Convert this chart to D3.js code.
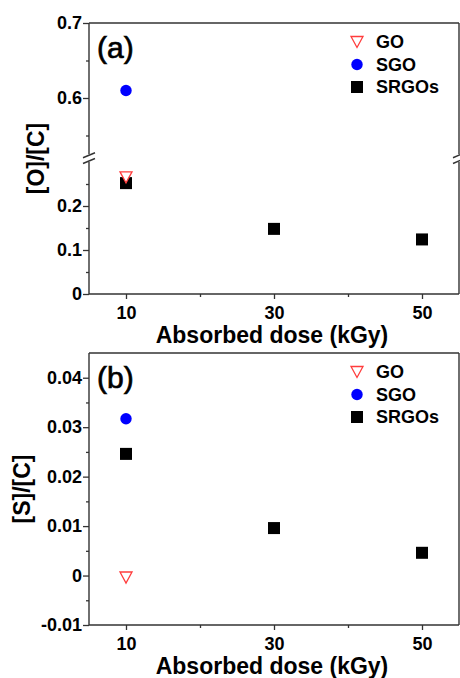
<!DOCTYPE html>
<html>
<head>
<meta charset="utf-8">
<script src="https://cdn.jsdelivr.net/npm/d3@7"></script>
<style>
  body { margin: 0; background: #fff; }
  text { font-family: Arial, "Liberation Sans", sans-serif; }
</style>
</head>
<body>
<svg id="fig" width="460" height="678"></svg>
<script>
// data
const doseGO = [10]
const doseSGO = [10]
const doseSRGO = [10, 30, 50]

const goOC = [0.265]
const sgoOC = [0.61]
const srgoOC = [0.252, 0.148, 0.124]

const goSC = [-0.0004]
const sgoSC = [0.0317]
const srgoSC = [0.0246, 0.0096, 0.0046]

const xTicks = [10, 30, 50]
const xMinor = [20, 40]
const ocTicksHigh = [0.6, 0.7]
const ocMinorHigh = [0.55, 0.65]
const ocTicksLow = [0, 0.1, 0.2]
const ocMinorLow = [0.05, 0.15, 0.25]
const scTicks = [-0.01, 0, 0.01, 0.02, 0.03, 0.04]
const scMinor = [-0.005, 0.005, 0.015, 0.025, 0.035]

const legendNames = ["GO", "SGO", "SRGOs"]

const left = 89, right = 459
const axisColor = "#333"
const svg = d3.select("#fig")

const x = d3.scaleLinear().domain([5, 55]).range([left, right])

function marker(g, type, cx, cy) {
	if (type == "GO") {
		// open down-pointing triangle (white inside)
		g.append("path")
			.attr("d", `M${cx - 6},${cy - 5.5}L${cx + 6},${cy - 5.5}L${cx},${cy + 5.5}Z`)
			.attr("fill", "#fff")
			.attr("stroke", "#ff3c3c")
			.attr("stroke-width", 1.3)
	} else if (type == "SGO") {
		g.append("circle")
			.attr("cx", cx).attr("cy", cy).attr("r", 5.7)
			.attr("fill", "#0000ff")
	} else {
		g.append("rect")
			.attr("x", cx - 6).attr("y", cy - 6)
			.attr("width", 12).attr("height", 12)
			.attr("fill", "#000")
	}
}

function styleAxis(g) {
	g.select(".domain").remove()
	g.selectAll("line").attr("stroke", axisColor).attr("stroke-width", 1.3)
	g.selectAll("text")
		.attr("fill", "#000")
		.style("font-size", "18px")
		.style("font-weight", "bold")
}

function yAxis(g, scale, major, minor) {
	g.append("g")
		.attr("transform", `translate(${left},0)`)
		.call(d3.axisLeft(scale).tickValues(major).tickSize(6).tickPadding(1).tickFormat(d => String(d)))
		.call(styleAxis)
	g.append("g")
		.attr("transform", `translate(${left},0)`)
		.call(d3.axisLeft(scale).tickValues(minor).tickSize(3).tickFormat(""))
		.call(styleAxis)
}

function drawPanel(p) {
	let g = svg.append("g")
	let top = p.top, bottom = p.bottom

	// x axis
	g.append("g")
		.attr("transform", `translate(0,${bottom})`)
		.call(d3.axisBottom(x).tickValues(xTicks).tickSize(5).tickPadding(7).tickFormat(d => String(d)))
		.call(styleAxis)
	g.append("g")
		.attr("transform", `translate(0,${bottom})`)
		.call(d3.axisBottom(x).tickValues(xMinor).tickSize(3).tickFormat(""))
		.call(styleAxis)

	// y axis (one or two segments)
	for (let s of p.segments)
		yAxis(g, s.scale, s.major, s.minor)

	// frame
	let frame = g.append("g").attr("stroke", axisColor).attr("stroke-width", 1.4).attr("fill", "none")
	frame.append("line").attr("x1", left).attr("x2", right).attr("y1", top).attr("y2", top)
	frame.append("line").attr("x1", left).attr("x2", right).attr("y1", bottom).attr("y2", bottom)
	for (let s of p.segments) {
		let r = s.scale.range()
		for (let xx of [left, right])
			frame.append("line").attr("x1", xx).attr("x2", xx).attr("y1", r[1]).attr("y2", r[0])
	}
	if (p.segments.length > 1) {
		let yb1 = p.segments[0].scale.range()[0]
		let yb2 = p.segments[1].scale.range()[1]
		for (let xx of [left, right])
			for (let yy of [yb1 + 1, yb2 - 1])
				frame.append("line")
					.attr("x1", xx - 6).attr("y1", yy + 2.5)
					.attr("x2", xx + 6).attr("y2", yy - 2.5)
	}

	// points
	let yOf = v => {
		for (let s of p.segments) {
			let d = s.scale.domain()
			if (v >= d[0] - 0.03 && v <= d[1]) return s.scale(v)
		}
		return p.segments[0].scale(v)
	}
	let pts = g.append("g")
	for (let ser of p.series)
		ser.xs.forEach((d, i) => marker(pts, ser.name, x(d), yOf(ser.ys[i])))

	// legend
	let lg = g.append("g")
	legendNames.forEach((name, i) => {
		let cy = top + 19 + i * 22.5
		marker(lg, name, 357, cy)
		lg.append("text")
			.attr("x", 376).attr("y", cy).attr("dy", "0.36em")
			.style("font-size", "18px").style("font-weight", "bold")
			.text(name)
	})

	// panel tag, a bit heavier than regular
	g.append("text")
		.attr("x", 97).attr("y", top + 35)
		.attr("stroke", "#000").attr("stroke-width", 0.7)
		.style("font-size", "30px")
		.text(p.tag)

	// axis titles
	g.append("text")
		.attr("x", (left + right) / 2 - 2).attr("y", bottom + 49)
		.attr("text-anchor", "middle")
		.style("font-size", "23px").style("font-weight", "bold")
		.text("Absorbed dose (kGy)")
	g.append("text")
		.attr("transform", `translate(${p.titleX},${(top + bottom) / 2}) rotate(-90)`)
		.attr("text-anchor", "middle").attr("dy", "0.36em")
		.style("font-size", "23px").style("font-weight", "bold")
		.text(p.yTitle)
}

// (a) broken O/C axis
let ocHigh = d3.scaleLinear().domain([0.525, 0.7]).range([154.25, 23])
let ocLow = d3.scaleLinear().domain([0, 0.3]).range([294, 162])
drawPanel({
	top: 23, bottom: 294, tag: "(a)", yTitle: "[O]/[C]", titleX: 36,
	segments: [
		{scale: ocHigh, major: ocTicksHigh, minor: ocMinorHigh},
		{scale: ocLow, major: ocTicksLow, minor: ocMinorLow}
	],
	series: [
		{name: "SRGOs", xs: doseSRGO, ys: srgoOC},
		{name: "GO", xs: doseGO, ys: goOC},
		{name: "SGO", xs: doseSGO, ys: sgoOC}
	]
})

// (b) S/C
let sc = d3.scaleLinear().domain([-0.01, 0.045]).range([625, 353])
drawPanel({
	top: 353, bottom: 625, tag: "(b)", yTitle: "[S]/[C]", titleX: 22,
	segments: [{scale: sc, major: scTicks, minor: scMinor}],
	series: [
		{name: "SRGOs", xs: doseSRGO, ys: srgoSC},
		{name: "GO", xs: doseGO, ys: goSC},
		{name: "SGO", xs: doseSGO, ys: sgoSC}
	]
})
</script>
</body>
</html>
